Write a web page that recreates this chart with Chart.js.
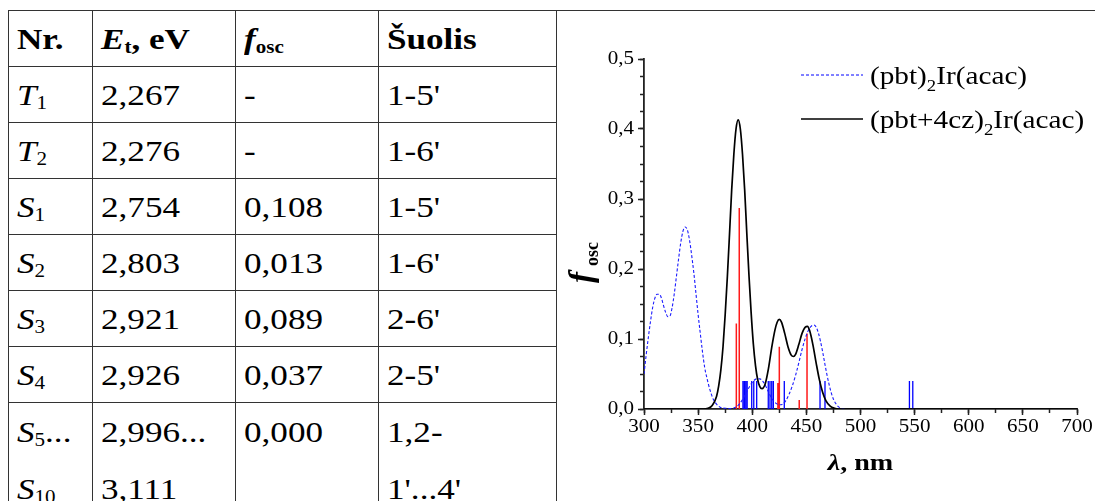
<!DOCTYPE html>
<html><head><meta charset="utf-8">
<script src="https://cdn.jsdelivr.net/npm/chart.js@4.4.0/dist/chart.umd.min.js"></script>
<style>
html,body{margin:0;padding:0;background:#fff;}
body{width:1095px;height:501px;overflow:hidden;position:relative;font-family:"Liberation Serif","Times New Roman",serif;color:#000;}
#topline{position:absolute;left:556px;top:10px;width:539px;height:0;border-top:1px solid #333;}
#tbl{position:absolute;left:8px;top:10px;border-collapse:collapse;table-layout:fixed;}
#tbl td{border:1px solid #333;padding:0 0 0 8px;vertical-align:top;height:55px;line-height:55px;font-size:30px;overflow:hidden;white-space:nowrap;}
#tbl tr.last td{height:130px;line-height:57px;}
.s{display:inline-block;vertical-align:top;transform:scaleX(1.17);transform-origin:0 50%;}
sub{font-size:60%;vertical-align:baseline;position:relative;top:0.22em;font-style:normal;line-height:0;}
#wrap{position:absolute;left:557px;top:11px;width:538px;height:490px;}
</style>
</head>
<body>
<div id="topline"></div>
<table id="tbl">
<colgroup><col style="width:84px"><col style="width:143px"><col style="width:143px"><col style="width:178px"></colgroup>
<tbody id="tbody"></tbody>
</table>
<div id="wrap"><canvas id="c" width="538" height="490"></canvas></div>
<script>
// ---------- table data ----------
const headers = ['<b>Nr.</b>', '<b><i>E</i><sub>t</sub>, eV</b>', '<b><i>f</i><sub>osc</sub></b>', '<b>Šuolis</b>'];
const stateLetters = ['T', 'T', 'S', 'S', 'S', 'S'];
const stateIndices = ['1', '2', '1', '2', '3', '4'];
const energies = ['2,267', '2,276', '2,754', '2,803', '2,921', '2,926'];
const foscValues = ['-', '-', '0,108', '0,013', '0,089', '0,037'];
const transitions = ["1-5'", "1-6'", "1-5'", "1-6'", "2-6'", "2-5'"];
const lastRow = ['<i>S</i><sub>5</sub>...<br><i>S</i><sub>10</sub>', '2,996...<br>3,111', '0,000', "1,2-<br>1'...4'"];

// ---------- chart data ----------
const pbtNm = [300,302,304,306,308,310,312,314,316,318,320,322,324,326,328,330,332,334,336,338,340,342,344,346,348,350,352,354,356,358,361,364,367,370,375,380,384,388,392,396,400,404,407,410,413,416,419,422,425,428,431,434,437,440,443,446,449,452,455,457,459,461,463,465,467,469,471,473,475,478,482,486];
const pbtF  = [0.05,0.077,0.102,0.125,0.145,0.158,0.164,0.164,0.159,0.148,0.138,0.132,0.133,0.145,0.165,0.19,0.215,0.238,0.254,0.26,0.256,0.242,0.22,0.195,0.165,0.135,0.108,0.082,0.06,0.045,0.027,0.014,0.007,0.003,0.001,0.0008,0.002,0.007,0.016,0.028,0.038,0.043,0.043,0.039,0.031,0.021,0.013,0.008,0.006,0.007,0.012,0.021,0.033,0.048,0.066,0.085,0.101,0.113,0.119,0.12,0.117,0.109,0.097,0.082,0.065,0.049,0.035,0.023,0.014,0.006,0.001,0];
const czNm = [300,340,355,359,363,367,369,371,373,375,377,379,381,383,385,387,389,391,393,395,397,399,401,403,405,407,409,412,415,418,421,423,425,427,430,433,436,438,440,443,446,449,451,453,456,459,462,465,468,472,476,480,500,700];
const czF  = [0,0,0,0.001,0.005,0.018,0.033,0.056,0.089,0.135,0.189,0.25,0.313,0.364,0.4,0.413,0.4,0.364,0.313,0.25,0.19,0.137,0.093,0.062,0.042,0.032,0.029,0.036,0.058,0.088,0.113,0.124,0.128,0.124,0.108,0.089,0.077,0.075,0.078,0.092,0.108,0.117,0.118,0.112,0.092,0.066,0.042,0.024,0.012,0.004,0.001,0,0,0];
const redStickNm = [385.3, 388.0, 423.7, 425.0, 443.4, 450.6];
const redStickF  = [0.122, 0.287, 0.037, 0.089, 0.013, 0.108];
const blueStickNm = [391.4, 392.7, 394.0, 395.3, 399.5, 401.4, 404.1, 414.8, 416.4, 418.0, 419.5, 429.6, 462.6, 467.2, 545.2, 548.3];
const blueStickF  = [0.04, 0.04, 0.04, 0.04, 0.04, 0.04, 0.04, 0.04, 0.04, 0.04, 0.04, 0.04, 0.04, 0.04, 0.04, 0.04];
const xMin = 300, xMax = 700, xMajorStep = 50, xMinorStep = 25;
const yMin = 0, yMax = 0.5, yMajorStep = 0.1, yMinorStep = 0.025;
const legendLabels = [['(pbt)', '2', 'Ir(acac)'], ['(pbt+4cz)', '2', 'Ir(acac)']];
const xTitle = ['λ', ', nm'];
const yTitle = ['f', 'osc'];

// ---------- build table ----------
const tb = document.getElementById('tbody');
function cell(html){ return '<td><span class="s">' + html + '</span></td>'; }
let html = '<tr>' + headers.map(cell).join('') + '</tr>';
for (let i = 0; i < energies.length; i++) {
  html += '<tr>' + cell('<i>' + stateLetters[i] + '</i><sub>' + stateIndices[i] + '</sub>') + cell(energies[i]) + cell(foscValues[i]) + cell(transitions[i]) + '</tr>';
}
html += '<tr class="last">' + lastRow.map(cell).join('') + '</tr>';
tb.innerHTML = html;

// ---------- chart ----------
const S = 1.17; // horizontal text stretch
const FONT = '"Liberation Serif", "Times New Roman", serif';
const stretchPlugin = {
  id: 'stretch',
  beforeInit(chart) {
    const ctx = chart.ctx;
    const orig = ctx.fillText;
    ctx._fill0 = orig;
    ctx.fillText = function (t, x, y) {
      this.save(); this.translate(x, y); this.scale(S, 1); orig.call(this, t, 0, 0); this.restore();
    };
  }
};
function richWidth(ctx, txt, font){ ctx.font = font; return ctx.measureText(txt).width * S; }
const decorPlugin = {
  id: 'decor',
  afterDraw(chart) {
    const ctx = chart.ctx, a = chart.chartArea;
    ctx.save();
    ctx.fillStyle = '#000';
    ctx.textAlign = 'left';
    ctx.textBaseline = 'alphabetic';
    // legend
    const lx0 = a.left + 157, lx1 = a.left + 219, tx = a.left + 226;
    const rows = [{y: a.top + 16, base: a.top + 25, color: '#0000ff', w: 1, dash: [3, 2]},
                  {y: a.top + 60, base: a.top + 69, color: '#000', w: 1.6, dash: []}];
    rows.forEach((r, i) => {
      ctx.beginPath(); ctx.setLineDash(r.dash); ctx.strokeStyle = r.color; ctx.lineWidth = r.w;
      ctx.moveTo(lx0, r.y); ctx.lineTo(lx1, r.y); ctx.stroke();
      ctx.setLineDash([]);
      const p = legendLabels[i];
      let x = tx;
      const fBig = '25px ' + FONT, fSub = '16px ' + FONT;
      ctx.font = fBig; ctx.fillText(p[0], x, r.base); x += richWidth(ctx, p[0], fBig);
      ctx.font = fSub; ctx.fillText(p[1], x, r.base + 7); x += richWidth(ctx, p[1], fSub);
      ctx.font = fBig; ctx.fillText(p[2], x, r.base);
    });
    // x title
    const f1 = 'bold italic 24px ' + FONT, f2 = 'bold 24px ' + FONT;
    const w1 = richWidth(ctx, xTitle[0], f1), w2 = richWidth(ctx, xTitle[1], f2);
    let xs = (a.left + a.right) / 2 - (w1 + w2) / 2;
    const yb = a.bottom + 61;
    ctx.font = f1; ctx.fillText(xTitle[0], xs, yb);
    ctx.font = f2; ctx.fillText(xTitle[1], xs + w1, yb);
    // y title (rotated)
    ctx.translate(a.left - 52, (a.top + a.bottom) / 2 + 49);
    ctx.rotate(-Math.PI / 2);
    ctx.font = 'bold italic 33px ' + FONT;
    ctx._fill0(yTitle[0], 0, 0);
    const fw = ctx.measureText(yTitle[0]).width;
    ctx.font = 'bold 18px ' + FONT;
    ctx._fill0(yTitle[1], fw + 6, 6);
    ctx.restore();
  }
};

function sticks(nm, f) {
  const out = [];
  nm.forEach((x, i) => { out.push({x: x, y: 0}, {x: x, y: f[i]}, {x: x, y: null}); });
  return out;
}
const lineBase = {type: 'line', pointRadius: 0, fill: false, xAxisID: 'x', yAxisID: 'y'};
const datasets = [
  Object.assign({}, lineBase, {label: '(pbt+4cz)2Ir(acac)', data: czNm.map((x, i) => ({x: x, y: czF[i]})), borderColor: '#000', borderWidth: 1.7, cubicInterpolationMode: 'monotone'}),
  Object.assign({}, lineBase, {label: '(pbt)2Ir(acac)', data: pbtNm.map((x, i) => ({x: x, y: pbtF[i]})), borderColor: '#1a1aff', borderWidth: 1.1, borderDash: [3, 2], cubicInterpolationMode: 'monotone'}),
  Object.assign({}, lineBase, {label: 'red', data: sticks(redStickNm, redStickF), borderColor: '#ff1a1a', borderWidth: 1.5, tension: 0, spanGaps: false}),
  Object.assign({}, lineBase, {label: 'blue', data: sticks(blueStickNm, blueStickF), borderColor: '#0000ff', borderWidth: 1.3, tension: 0, spanGaps: false})
];

const tickFont = {family: FONT, size: 18};
const axisCol = '#222';
new Chart(document.getElementById('c'), {
  type: 'line',
  data: {datasets: datasets},
  options: {
    responsive: false, animation: false, devicePixelRatio: 1,
    layout: {padding: {left: 0, right: 18, top: 48, bottom: 0}},
    plugins: {legend: {display: false}, tooltip: {enabled: false}},
    scales: {
      x: {type: 'linear', position: 'bottom', weight: 1, min: xMin, max: xMax, offset: false,
          ticks: {stepSize: xMajorStep, autoSkip: false, maxRotation: 0, font: tickFont, color: '#000', padding: 1, callback: v => String(v)},
          grid: {drawOnChartArea: false, drawTicks: true, tickLength: 6, tickWidth: 1.5, tickColor: axisCol},
          border: {display: true, color: axisCol, width: 1.8},
          afterFit: s => { s.height = 92; }},
      xMinor: {type: 'linear', position: 'bottom', weight: 0, min: xMin, max: xMax, offset: false,
          ticks: {stepSize: xMinorStep, display: false},
          grid: {drawOnChartArea: false, drawTicks: true, tickLength: 4, tickWidth: 1.5, tickColor: axisCol},
          border: {display: false},
          afterFit: s => { s.height = 0; }},
      y: {type: 'linear', position: 'left', weight: 1, min: yMin, max: yMax,
          ticks: {stepSize: yMajorStep, autoSkip: false, font: tickFont, color: '#000', padding: 4, callback: v => v.toFixed(1).replace('.', ',')},
          grid: {drawOnChartArea: false, drawTicks: true, tickLength: 6, tickWidth: 1.5, tickColor: axisCol},
          border: {display: true, color: axisCol, width: 1.8},
          afterFit: s => { s.width = 87; }},
      yMinor: {type: 'linear', position: 'left', weight: 0, min: yMin, max: yMax,
          ticks: {stepSize: yMinorStep, display: false},
          grid: {drawOnChartArea: false, drawTicks: true, tickLength: 4, tickWidth: 1.5, tickColor: axisCol},
          border: {display: false},
          afterFit: s => { s.width = 0; }}
    }
  },
  plugins: [stretchPlugin, decorPlugin]
});
</script>
</body></html>
